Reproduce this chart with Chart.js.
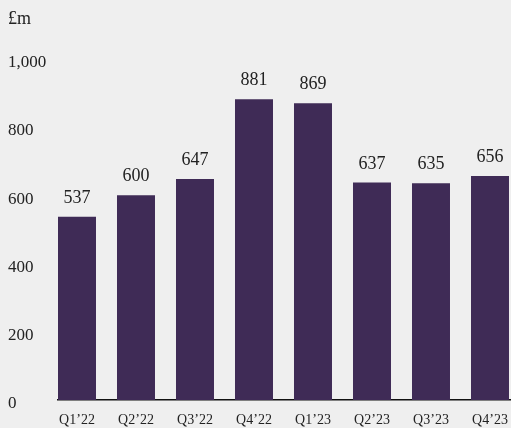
<!DOCTYPE html>
<html>
<head>
<meta charset="utf-8">
<script src="https://cdn.jsdelivr.net/npm/chart.js@4"></script>
<style>
  html, body { margin: 0; padding: 0; background: #efefef; }
  #wrap { width: 511px; height: 428px; }
</style>
</head>
<body>
<div id="wrap"><canvas id="revenueChart"></canvas></div>
<script>
const quarters = ["Q1’22", "Q2’22", "Q3’22", "Q4’22", "Q1’23", "Q2’23", "Q3’23", "Q4’23"];
const revenue = [537, 600, 647, 881, 869, 637, 635, 656];
const yTicks = [0, 200, 400, 600, 800, 1000];

const serif = "'Liberation Serif', 'DejaVu Serif', serif";
const textColor = "#222";

// value printed above each bar
const barValues = {
  id: "barValues",
  afterDatasetsDraw(chart) {
    const ctx = chart.ctx;
    const meta = chart.getDatasetMeta(0);
    ctx.save();
    ctx.font = `18px ${serif}`;
    ctx.fillStyle = textColor;
    ctx.textAlign = "center";
    ctx.textBaseline = "alphabetic";
    meta.data.forEach((bar, i) => {
      ctx.fillText(String(revenue[i]), bar.x, bar.y - 14);
    });
    ctx.restore();
  },
};

new Chart(document.getElementById("revenueChart"), {
  type: "bar",
  data: {
    datasets: [
      {
        data: revenue.map((v, i) => ({ x: i, y: v })),
        backgroundColor: "#3f2b56",
        categoryPercentage: 1,
        barPercentage: 0.644,
      },
    ],
  },
  plugins: [barValues],
  options: {
    responsive: true,
    maintainAspectRatio: false,
    animation: false,
    layout: {
      padding: { left: 8, right: 0, top: 0, bottom: 0 },
    },
    plugins: {
      legend: { display: false },
      tooltip: { enabled: false },
      title: {
        display: true,
        text: "£m",
        align: "start",
        color: textColor,
        font: { family: serif, size: 18, weight: "normal" },
        padding: { top: 8, bottom: 29 },
      },
    },
    scales: {
      x: {
        type: "linear",
        offset: false,
        min: -0.322,
        max: 7.356,
        grid: { display: false, drawTicks: false },
        border: { display: true, color: "#111", width: 1.5 },
        afterBuildTicks: (scale) => {
          scale.ticks = quarters.map((_, i) => ({ value: i }));
        },
        afterFit: (scale) => {
          scale.height = 28;
          // let the axis run right to the canvas edge
          scale.paddingLeft = 0;
          scale.paddingRight = 0;
        },
        ticks: {
          color: textColor,
          font: { family: serif, size: 14 },
          padding: 12,
          maxRotation: 0,
          autoSkip: false,
          callback: (value) => quarters[value],
        },
      },
      y: {
        min: 0,
        max: 1000,
        grid: { display: false, drawTicks: false },
        border: { display: false },
        afterBuildTicks: (scale) => {
          scale.ticks = yTicks.map((v) => ({ value: v }));
        },
        afterFit: (scale) => {
          scale.width = 50;
        },
        ticks: {
          color: textColor,
          font: { family: serif, size: 17 },
          crossAlign: "far",
          labelOffset: 4,
          callback: (value) => value.toLocaleString("en-GB"),
        },
      },
    },
  },
});
</script>
</body>
</html>
